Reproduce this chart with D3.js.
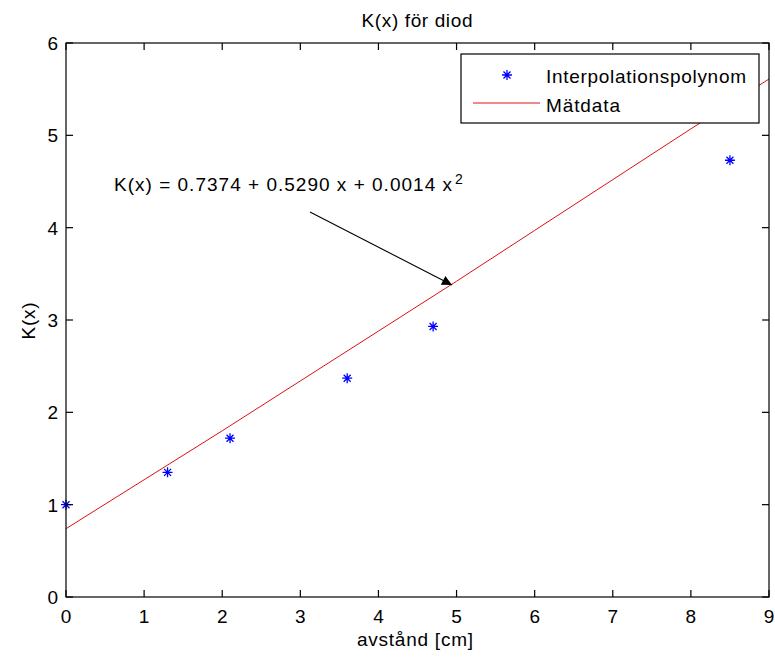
<!DOCTYPE html>
<html><head><meta charset="utf-8">
<script src="https://cdn.jsdelivr.net/npm/d3@7"></script>
<style>
body{margin:0;background:#fff;}
svg text{font-family:"Liberation Sans",Arial,sans-serif;fill:#000;}
</style></head>
<body>
<svg id="c" width="775" height="658"></svg>
<script>
// Data
const pointX = [0, 1.3, 2.1, 3.6, 4.7, 8.5];
const pointY = [1.0, 1.35, 1.72, 2.37, 2.93, 4.73];
const lineX = [0, 1, 2, 3, 4, 5, 6, 7, 8, 9];
const lineY = [0.74, 1.27, 1.80, 2.34, 2.88, 3.42, 3.97, 4.52, 5.07, 5.61];
const xTicks = [0,1,2,3,4,5,6,7,8,9];
const yTicks = [0,1,2,3,4,5,6];
const titleText = "K(x) för diod";
const xLabel = "avstånd [cm]";
const yLabel = "K(x)";
const seriesNames = ["Interpolationspolynom", "Mätdata"];
const annotationText = "K(x) = 0.7374 + 0.5290 x + 0.0014 x";
const annotationSup = "2";

const svg = d3.select("#c");
const L = 66, R = 769, T = 43, B = 597;
const x = d3.scaleLinear().domain([0, 9]).range([L, R]);
const y = d3.scaleLinear().domain([0, 6]).range([B, T]);
const FS = 19;

svg.append("rect").attr("x", L).attr("y", T).attr("width", R - L).attr("height", B - T)
  .attr("fill", "#fff");

svg.append("clipPath").attr("id", "clip").append("rect")
  .attr("x", L).attr("y", T).attr("width", R - L).attr("height", B - T);

// line
const lineGen = d3.line().x(d => x(d[0])).y(d => y(d[1]));
svg.append("path").datum(lineX.map((v, i) => [v, lineY[i]]))
  .attr("d", lineGen).attr("fill", "none").attr("stroke", "#e01010").attr("stroke-width", 1)
  .attr("clip-path", "url(#clip)");

// star markers
function star(g, cx, cy, s) {
  const p = `M${cx - s},${cy}L${cx + s},${cy}M${cx},${cy - s}L${cx},${cy + s}` +
    `M${cx - s * 0.7},${cy - s * 0.7}L${cx + s * 0.7},${cy + s * 0.7}M${cx - s * 0.7},${cy + s * 0.7}L${cx + s * 0.7},${cy - s * 0.7}`;
  g.append("path").attr("d", p).attr("stroke", "#0000ff").attr("stroke-width", 1.3).attr("fill", "none");
}
const pts = svg.append("g");
pointX.forEach((v, i) => star(pts, x(v), y(pointY[i]), 5));

// axes box with ticks inside
const axG = svg.append("g").attr("stroke", "#000").attr("stroke-width", 1.2).attr("fill", "none");
axG.append("rect").attr("x", L).attr("y", T).attr("width", R - L).attr("height", B - T);
const tl = 7;
xTicks.forEach(t => {
  axG.append("line").attr("x1", x(t)).attr("x2", x(t)).attr("y1", B).attr("y2", B - tl);
  axG.append("line").attr("x1", x(t)).attr("x2", x(t)).attr("y1", T).attr("y2", T + tl);
});
yTicks.forEach(t => {
  axG.append("line").attr("x1", L).attr("x2", L + tl).attr("y1", y(t)).attr("y2", y(t));
  axG.append("line").attr("x1", R).attr("x2", R - tl).attr("y1", y(t)).attr("y2", y(t));
});
// tick labels
svg.append("g").selectAll("text").data(xTicks).join("text")
  .attr("x", d => x(d)).attr("y", 623).attr("text-anchor", "middle")
  .attr("font-size", FS).text(d => d);
svg.append("g").selectAll("text").data(yTicks).join("text")
  .attr("x", 58).attr("y", d => y(d) + 7).attr("text-anchor", "end")
  .attr("font-size", FS).text(d => d);

// title & labels
svg.append("text").attr("x", 417).attr("y", 27).attr("text-anchor", "middle").attr("font-size", FS)
  .attr("textLength", 111).text(titleText);
svg.append("text").attr("x", 415).attr("y", 646).attr("text-anchor", "middle").attr("font-size", FS)
  .attr("textLength", 116).text(xLabel);
svg.append("text").attr("transform", "translate(35,321) rotate(-90)").attr("text-anchor", "middle")
  .attr("font-size", FS).attr("textLength", 37).text(yLabel);

// annotation
svg.append("text").attr("x", 114).attr("y", 191).attr("font-size", FS)
  .attr("textLength", 338).text(annotationText);
svg.append("text").attr("x", 455).attr("y", 184).attr("font-size", 14).text(annotationSup);

svg.append("defs").append("marker").attr("id", "arr").attr("viewBox", "0 0 10 10")
  .attr("refX", 10).attr("refY", 5).attr("markerWidth", 15).attr("markerHeight", 10)
  .attr("markerUnits", "userSpaceOnUse").attr("orient", "auto")
  .append("path").attr("d", "M0,0L10,5L0,10Z").attr("fill", "#000");
svg.append("line").attr("x1", 310).attr("y1", 212).attr("x2", 452).attr("y2", 285)
  .attr("stroke", "#000").attr("stroke-width", 1.1).attr("marker-end", "url(#arr)");

// legend
const lg = svg.append("g");
lg.append("rect").attr("x", 461).attr("y", 54).attr("width", 298).attr("height", 69)
  .attr("fill", "#fff").attr("stroke", "#000").attr("stroke-width", 1.2);
star(lg, 507, 75, 5);
lg.append("line").attr("x1", 473).attr("x2", 540).attr("y1", 103).attr("y2", 103)
  .attr("stroke", "#e01010").attr("stroke-width", 1);
lg.append("text").attr("x", 546).attr("y", 83).attr("font-size", FS).attr("textLength", 200).text(seriesNames[0]);
lg.append("text").attr("x", 546).attr("y", 112).attr("font-size", FS).attr("textLength", 74).text(seriesNames[1]);
</script>
</body></html>
